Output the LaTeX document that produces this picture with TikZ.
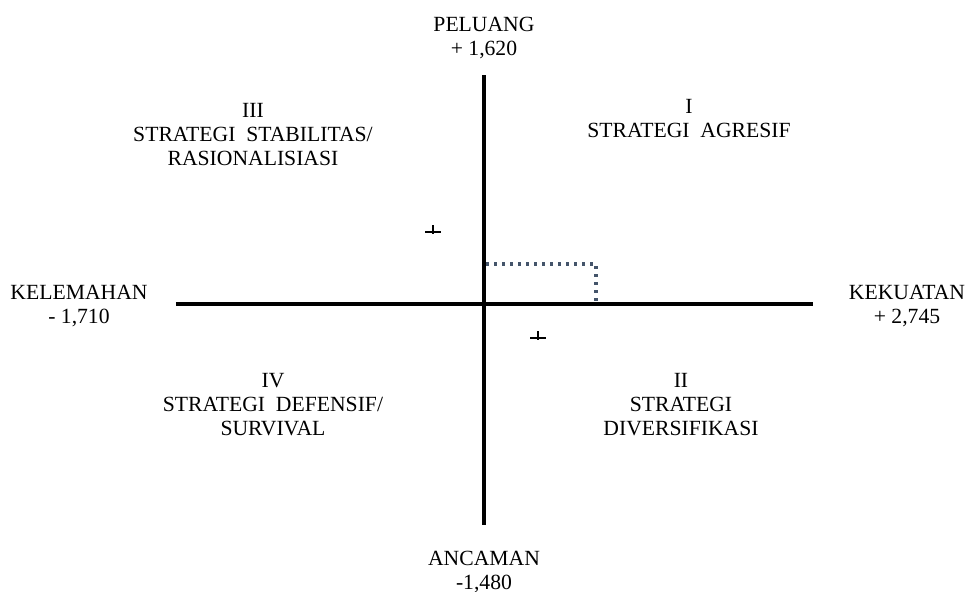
\documentclass[tikz,border=0pt]{standalone}
\usepackage{fontspec}
\setmainfont{Liberation Serif}
\definecolor{dotblue}{RGB}{68,84,106}
\begin{document}
\begin{tikzpicture}[
    axis/.style={line width=2.85pt},
    lbl/.style={align=center, anchor=base, inner sep=0pt, font=\fontsize{15.4}{17}\selectfont},
    guide/.style={dotblue, line width=2.4pt, dash pattern=on 2.2pt off 3.5pt},
    tick/.style={line width=0.9pt}
]
\useasboundingbox (-12.1,-7.2) rectangle (12.075,7.6);

\coordinate (top) at (0,5.725);
\coordinate (bot) at (0,-5.525);
\coordinate (left) at (-7.7,0);
\coordinate (right) at (8.225,0);

\draw[axis] (top) -- (bot);
\draw[axis] (left) -- (right);

\node[lbl] (peluang) at (0,6.225) {PELUANG\\+ 1,620};
\node[lbl] (ancaman) at (0,-7.125) {ANCAMAN\\-1,480};
\node[lbl] (kelemahan) at (-10.125,-0.475) {KELEMAHAN\\- 1,710};
\node[lbl] (kekuatan) at (10.575,-0.475) {KEKUATAN\\+ 2,745};

\node[lbl] (q3) at (-5.775,3.475) {III\\STRATEGI\ \ STABILITAS/\\RASIONALISIASI};
\node[lbl] (q1) at (5.125,4.16) {I\\STRATEGI\ \ AGRESIF};
\node[lbl] (q4) at (-5.275,-3.275) {IV\\STRATEGI\ \ DEFENSIF/\\SURVIVAL};
\node[lbl] (q2) at (4.925,-3.275) {II\\STRATEGI\\DIVERSIFIKASI};

% titik posisi
\coordinate (g1) at (0.05,1.0);
\coordinate (g2) at (2.8,1.0);
\coordinate (g3) at (2.8,0);
\draw[guide] (g1) -- (g2) -- (g3);

\coordinate (p1) at (-1.275,1.8);
\coordinate (p2) at (1.35,-0.85);
\foreach \p in {p1,p2} {
  \draw[tick] (\p) ++(-0.19,0) -- ++(0.38,0);
  \draw[tick] (\p) ++(0,0.175) -- ++(0,-0.225);
}
\end{tikzpicture}
\end{document}
